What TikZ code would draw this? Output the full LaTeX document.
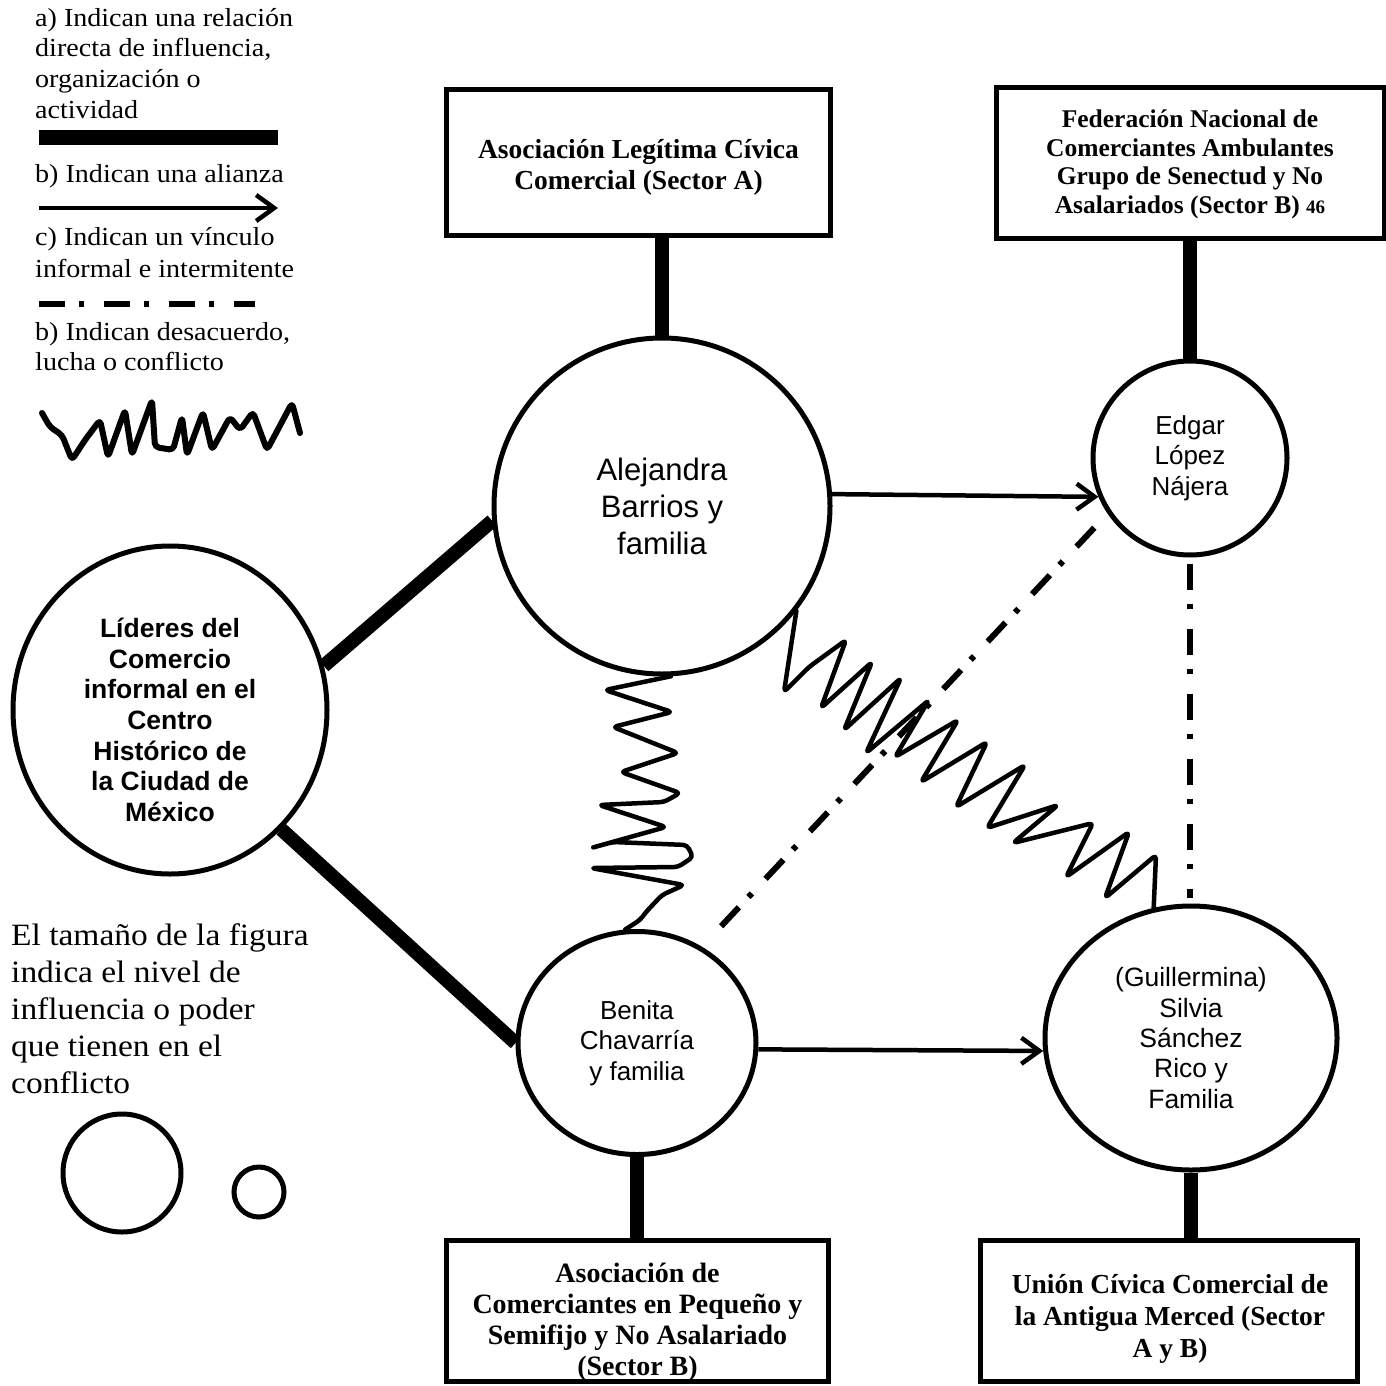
\documentclass[tikz,border=0pt]{standalone}
\usepackage{fontspec}
\setmainfont{Liberation Serif}
\newfontfamily\legfont[FakeStretch=1.08]{Liberation Serif}
\newfontfamily\arialf{Liberation Sans}
\usetikzlibrary{arrows.meta,shapes.geometric}
\tikzset{
  heavy/.style={line width=14pt},
  boxst/.style={draw, line width=5pt, rectangle, inner sep=0pt, outer sep=0pt},
  circst/.style={draw, line width=5pt, circle, inner sep=0pt},
  ellst/.style={draw, line width=5pt, ellipse, inner sep=0pt},
  arr/.style={line width=4.5pt, -{Straight Barb[length=18pt,width=26pt]}},
  dd/.style={line width=6pt, dash pattern=on 26pt off 14pt on 5pt off 20pt},
  squig/.style={line width=4.5pt, rounded corners=4pt, line join=round, line cap=round},
  legtxt/.style={anchor=base west, inner sep=0pt, font=\legfont\fontsize{26}{30}\selectfont},
  bigtxt/.style={anchor=base west, inner sep=0pt, font=\legfont\fontsize{31}{37}\selectfont},
  boxtxt/.style={anchor=base, inner sep=0pt, align=center},
}
\begin{document}
\begin{tikzpicture}[x=1pt,y=-1pt]
\useasboundingbox (0,0) rectangle (1386,1386);

% ---------- legend ----------
\node[legtxt] (l1) at (35,27) {a) Indican una relación};
\node[legtxt] (l2) at (35,57) {directa de influencia,};
\node[legtxt] (l3) at (35,88) {organización o};
\node[legtxt] (l4) at (35,118) {actividad};
\draw[line width=15pt] (39,137.5) -- (278,137.5);
\node[legtxt] (l5) at (35,182) {b) Indican una alianza};
\draw[arr] (39,208) -- (278,208);
\node[legtxt] (l6) at (35,245) {c) Indican un vínculo};
\node[legtxt] (l7) at (35,277) {informal e intermitente};
\draw[dd] (39,304) -- (255,304);
\node[legtxt] (l8) at (35,340) {b) Indican desacuerdo,};
\node[legtxt] (l9) at (35,370) {lucha o conflicto};
\draw[squig, line width=6pt] (42,413) -- (50,427) -- (62,435) -- (72,460) -- (85,440) -- (100,420) -- (108,457)
  -- (125,410) -- (132,455) -- (152,400) -- (155,447) -- (173,450) -- (182,417) -- (187,455)
  -- (203,412) -- (212,450) -- (230,417) -- (240,430) -- (253,412) -- (267,450) -- (292,403) -- (300,433);

\node[bigtxt] (s1) at (11,945) {El tamaño de la figura};
\node[bigtxt] (s2) at (11,982) {indica el nivel de};
\node[bigtxt] (s3) at (11,1019) {influencia o poder};
\node[bigtxt] (s4) at (11,1056) {que tienen en el};
\node[bigtxt] (s5) at (11,1093) {conflicto};
\node[circst, minimum size=118pt] (lg1) at (122,1173) {};
\node[circst, minimum size=50pt] (lg2) at (259,1192) {};

% ---------- boxes ----------
\node[boxst, minimum width=384pt, minimum height=145pt] (bA) at (638,162.5) {};
\node[boxst, minimum width=388pt, minimum height=150pt] (bB) at (1190,163) {};
\node[boxst, minimum width=382pt, minimum height=141pt] (bC) at (637,1310.5) {};
\node[boxst, minimum width=377pt, minimum height=141pt] (bD) at (1168.5,1310.5) {};

% multi-line nodes: the base anchor is the baseline of the last line
\node[boxtxt, font=\bfseries\fontsize{27.5}{31}\selectfont] (tA) at (638.5,189.3)
  {Asociación Legítima Cívica\\Comercial (Sector A)};
\node[boxtxt, font=\bfseries\fontsize{25.5}{28.5}\selectfont] (tB) at (1190,213)
  {Federación Nacional de\\Comerciantes Ambulantes\\Grupo de Senectud y No\\Asalariados (Sector B) {\fontsize{19}{19}\selectfont 46}};
\node[boxtxt, font=\bfseries\fontsize{28}{31}\selectfont] (tC) at (637.5,1375)
  {Asociación de\\Comerciantes en Pequeño y\\Semifijo y No Asalariado\\(Sector B)};
\node[boxtxt, font=\bfseries\fontsize{27.5}{32}\selectfont] (tD) at (1170,1357)
  {Unión Cívica Comercial de\\la Antigua Merced (Sector\\A y B)};
\draw[line width=5pt, line cap=rect] (bC.south west) -- (bC.south east);

% ---------- actors ----------
\node[circst, minimum size=336pt, align=center, font=\arialf\fontsize{31}{37}\selectfont] (alej) at (662,506)
  {Alejandra\\Barrios y\\familia};
\node[circst, minimum size=194pt, align=center, font=\arialf\fontsize{26}{30.5}\selectfont] (edgar) at (1190,458)
  {Edgar\\López\\Nájera};
\node[ellst, minimum width=314pt, minimum height=328pt] (lid) at (170,710) {};
\node[anchor=base, inner sep=0pt, align=center, font=\arialf\bfseries\fontsize{26.5}{30.7}\selectfont] (lidt) at (170,821.5)
  {Líderes del\\Comercio\\informal en el\\Centro\\Histórico de\\la Ciudad de\\México};
\node[ellst, minimum width=238pt, minimum height=223pt, align=center, font=\arialf\fontsize{26}{30.5}\selectfont] (ben) at (637,1043)
  {Benita\\Chavarría\\y familia};
\node[ellst, minimum width=292pt, minimum height=264pt, align=center, font=\arialf\fontsize{26.5}{30.3}\selectfont] (guill) at (1191,1038)
  {(Guillermina)\\Silvia\\Sánchez\\Rico y\\Familia};

% ---------- connectors ----------
\draw[heavy] (alej.north) -- (alej.north |- bA.south);
\draw[heavy] (edgar.north) -- (edgar.north |- bB.south);
\draw[heavy] (ben.south) -- (ben.south |- bC.north);
\draw[heavy] (guill.south) -- (guill.south |- bD.north);
\draw[heavy] (lid.16) -- (alej.185);
\draw[heavy] (lid.-47) -- (ben.180);

\draw[arr] (alej.4) -- (edgar.203);
\draw[arr] (ben.-3) -- (guill.185);

\draw[dd, shorten <=28pt, shorten >=14pt] (ben.56) -- (edgar.214);
\draw[dd, shorten <=6pt, shorten >=6pt] (edgar.south) -- (edgar.south |- guill.north);

\draw[squig] (alej.-87) -- (605,690) -- (672,712) -- (613,727) -- (678,753) -- (621,772)
  -- (680,793) -- (664,802) -- (599,805) -- (666,827) -- (591,848) -- (613,842) -- (687,845)
  -- (693,857) -- (678,867) -- (591,868) -- (684,885) -- (662,895) -- (646,912) -- (640,920) -- (ben.96);

\draw[squig] (alej.-38.5) -- (784,692) -- (809,667) -- (846,640) -- (821,708) -- (872,662)
  -- (844,730) -- (901,678) -- (866,753) -- (929,700) -- (895,757) -- (958,720) -- (921,782)
  -- (987,742) -- (956,807) -- (1025,765) -- (987,828) -- (1058,805) -- (1013,843)
  -- (1093,823) -- (1066,877) -- (1129,832) -- (1105,898) -- (1156,855) -- (guill.106);
\end{tikzpicture}
\end{document}
